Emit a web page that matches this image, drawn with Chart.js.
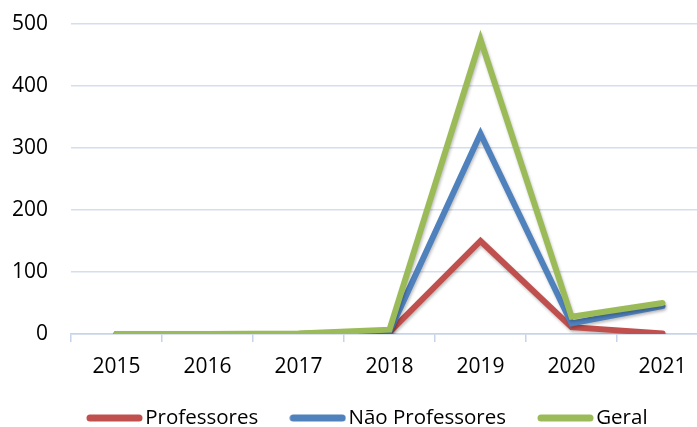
<!DOCTYPE html>
<html><head><meta charset="utf-8">
<script src="https://cdn.jsdelivr.net/npm/chart.js@4"></script>
<style>
html,body{margin:0;padding:0;background:#fff;overflow:hidden;width:697px;height:427px}
#wrap{width:712px;height:427px;position:relative}
</style></head><body>
<div id="wrap"><canvas id="c"></canvas></div>
<script>
const categories = ['2015','2016','2017','2018','2019','2020','2021'];
const professores = [0,0,0,3,150,11,1];
const naoProfessores = [0,0,0,4,323,17,45];
const geral = [0,0,1,7,475,28,50];
const yTicks = [0,100,200,300,400,500];

function legendLine(color){
  const cv=document.createElement('canvas');cv.width=57;cv.height=8;
  const g=cv.getContext('2d');g.strokeStyle=color;g.lineWidth=7;g.lineCap='round';
  g.beginPath();g.moveTo(4,4);g.lineTo(53,4);g.stroke();return cv;
}
const shadow = {
  id:'shadow',
  beforeDatasetDraw(chart){const c=chart.ctx;c.save();c.shadowColor='rgba(0,0,0,0.25)';c.shadowBlur=3;c.shadowOffsetX=1;c.shadowOffsetY=2;},
  afterDatasetDraw(chart){chart.ctx.restore();}
};
const legendShift = {
  id:'legendShift',
  afterLayout(chart){ const l=chart.legend; if(l){ l.left = 94-39; l.top = 418-10.25-39; } }
};

const tickFont = {family:'"Open Sans", sans-serif', size:21};
const legendFont = {family:'"Open Sans", sans-serif', size:20.5};
new Chart(document.getElementById('c'),{
  type:'line',
  data:{labels:categories,datasets:[
    {label:'Professores',data:professores,borderColor:'#c0504d',backgroundColor:'#c0504d',pointStyle:legendLine('#c0504d'),order:3},
    {label:'Não Professores',data:naoProfessores,borderColor:'#4f81bd',backgroundColor:'#4f81bd',pointStyle:legendLine('#4f81bd'),order:2},
    {label:'Geral',data:geral,borderColor:'#9bbb59',backgroundColor:'#9bbb59',pointStyle:legendLine('#9bbb59'),order:1}
  ]},
  options:{
    responsive:true,maintainAspectRatio:false,animation:false,
    elements:{line:{borderWidth:6,tension:0,borderCapStyle:'round',borderJoinStyle:'miter'},point:{radius:0,hoverRadius:0}},
    layout:{padding:{top:24,left:0,right:4,bottom:0}},
    plugins:{
      legend:{position:'bottom',align:'start',maxHeight:43,
        labels:{font:legendFont,color:'#000',usePointStyle:true,pointStyleWidth:41,boxHeight:8,padding:39,
        sort:(a,b)=>a.datasetIndex-b.datasetIndex},
        onClick:null},
      tooltip:{enabled:false}
    },
    scales:{
      x:{offset:true,
        grid:{offset:true,drawOnChartArea:false,tickLength:8,color:'#c6d4ea',lineWidth:1.5},
        border:{color:'#c6d4ea',width:1.5},
        ticks:{font:tickFont,color:'#000',padding:12,maxRotation:0},
        afterFit(a){a.height=50;}
      },
      y:{min:0,max:500,
        afterBuildTicks(a){a.ticks=yTicks.map(v=>({value:v}));},
        grid:{drawTicks:false,color:'#d3def0',lineWidth:1.5},
        border:{display:false},
        ticks:{font:tickFont,color:'#000',padding:23},
        afterFit(a){a.width=71;a.paddingTop=0;a.paddingBottom=0;}
      }
    }
  },
  plugins:[shadow,legendShift]
});
</script></body></html>
